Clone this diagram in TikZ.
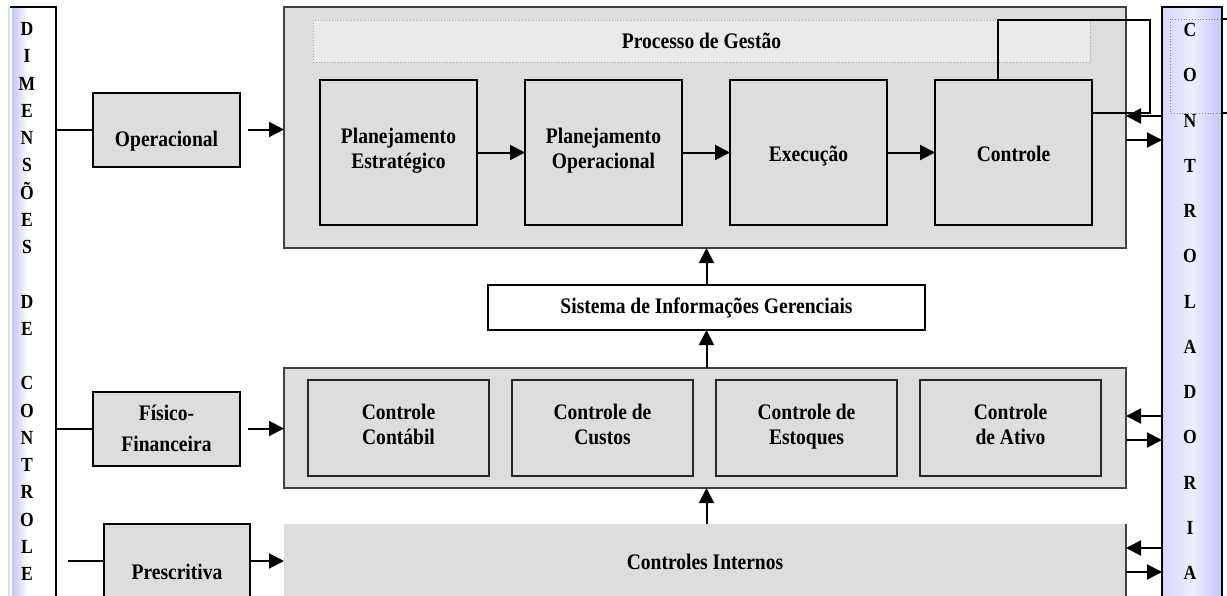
\documentclass[tikz,border=0pt]{standalone}
\usepackage{fontspec}
\setmainfont{Liberation Serif}[FakeStretch=0.88]
\usetikzlibrary{shapes.geometric, arrows, arrows.meta, positioning}
\definecolor{boxgray}{HTML}{DDDDDD}
\definecolor{headgray}{HTML}{EAEAEA}
\definecolor{barblue}{HTML}{C4C4F8}
\definecolor{barlight}{HTML}{EEEEFF}
\newcommand{\tallstrut}{\rule{0pt}{12.5pt}}
\tikzstyle{arrow} = [line width=1pt,-{Triangle[length=7.5pt,width=7.5pt]}]
\tikzstyle{link} = [line width=1pt]
\tikzstyle{block} = [rectangle, minimum width=73.5pt, minimum height=37pt, text centered, draw=black, line width=1pt, fill=boxgray, outer sep=0pt, font=\bfseries\fontsize{11.1}{12.5}\selectfont]
\tikzset{
	stage/.style={block, minimum width=78.5pt, minimum height=72.5pt, align=center, execute at begin node=\tallstrut, execute at end node=\strut},
	control/.style={block, draw=black!85, minimum width=90.5pt, minimum height=48pt, align=center, execute at begin node=\tallstrut, execute at end node=\strut},
	panel/.style={rectangle, draw=black!75, line width=0.6pt, fill=boxgray, minimum width=421pt, outer sep=0pt, font=\bfseries\fontsize{11.1}{12.5}\selectfont},
	sidebar/.style={rectangle, outer sep=0pt, minimum height=306.5pt},
	letters/.style={align=center, font=\bfseries\fontsize{10}{13.625}\selectfont}
}

\begin{document}
\begin{tikzpicture}[x=0.5pt, y=-0.5pt, node distance=24pt]
		\useasboundingbox (0,0) rectangle (1227,595);
		
		% Side bars
		\node (dimbar) [sidebar, minimum width=23pt] at (33,313.5) {};
		\fill [barblue!60] (8,7) rectangle (10,620);
		\fill [left color=barblue, right color=white] (12,7) rectangle (28,620);
		\draw [link] (dimbar.north west) -- (dimbar.north east) -- (dimbar.south east);
		\node (dimtext) [letters] at (27,301.5) {D\\I\\M\\E\\N\\S\\Õ\\E\\S\\[13.625pt]D\\E\\[13.625pt]C\\O\\N\\T\\R\\O\\L\\E};
		
		\node (contr) [sidebar, minimum width=30pt, left color=barblue!70, right color=barblue, middle color=barlight, draw=black, line width=1pt] at (1192,313.5) {};
		\node (contrtext) [letters, font=\bfseries\fontsize{10}{22.625}\selectfont] at (1190,301.5) {C\\O\\N\\T\\R\\O\\L\\A\\D\\O\\R\\I\\A};
		\draw [densely dotted, gray] (1170,19) rectangle (1240,113);
		\draw [link] (1222,19) -- (1230,19);
		\draw [link] (1222,113) -- (1230,113);
		
		% Dimensions
		\node (oper) [block, text height=19pt, text depth=2.5pt] at (166.5,129.5) {Operacional};
		\node (fisfin) [block, align=center] at (166.5,428.5) {Físico-\\[3pt]Financeira};
		\node (presc) [block, minimum width=73pt, minimum height=48pt] at (177,572) {Prescritiva};
		
		% Processo de gestao
		\node (gestao) [panel, minimum height=120.5pt] at (705,127.5) {};
		\node (header) [rectangle, draw=gray!70, densely dotted, fill=headgray, minimum width=388.5pt, minimum height=21pt, font=\bfseries\fontsize{11.1}{12.5}\selectfont] at (701.5,41) {Processo de Gestão};
		\node (plest) [stage] at (398.5,152.5) {Planejamento\\Estratégico};
		\node (plop) [stage, right=of plest] {Planejamento\\Operacional};
		\node (exec) [stage, right=of plop] {Execução};
		\node (ctrl) [stage, right=of exec] {Controle};
		
		\node (sig) [block, fill=white, minimum width=218.5pt, minimum height=22.5pt] at (706.5,307.5) {Sistema de Informações Gerenciais};
		
		% Controles fisico-financeiros
		\node (fisbox) [panel, minimum height=60pt] at (705,428) {};
		\node (ccont) [control] at (398.5,428) {Controle\\Contábil};
		\node (ccust) [control, right=11.5pt of ccont] {Controle de\\Custos};
		\node (cest) [control, right=11.5pt of ccust] {Controle de\\Estoques};
		\node (cativ) [control, right=11.5pt of cest] {Controle\\de Ativo};
		
		\node (interno) [panel, draw=none, minimum height=38pt] at (705,562) {Controles Internos};
		\draw [line width=0.6pt, black!75] (interno.north east) -- (interno.south east);
		
		% Arrows from the dimensions
		\draw [link] (dimbar.east |- oper.west) -- (oper.west);
		\draw [arrow] ([xshift=4pt]oper.east) -- (oper.east -| gestao.west);
		\draw [link] (dimbar.east |- fisfin.west) -- (fisfin.west);
		\draw [arrow] ([xshift=4pt]fisfin.east) -- (fisfin.east -| fisbox.west);
		\coordinate (prescin) at (68,561);
		\draw [link] (prescin) -- (prescin -| presc.west);
		\draw [arrow] (presc.east |- prescin) -- (prescin -| interno.west);
		
		% Process arrows
		\draw [arrow] (plest) -- (plop);
		\draw [arrow] (plop) -- (exec);
		\draw [arrow] (exec) -- (ctrl);
		\coordinate (loop) at (1150,20);
		\draw [link] ([xshift=-7.75pt]ctrl.north) |- (loop) |- ([yshift=19.75pt]ctrl.east);
		
		% Upward arrows
		\draw [arrow] (sig.north) -- (sig.north |- gestao.south);
		\draw [arrow] (sig.north |- fisbox.north) -- (sig.south);
		\draw [arrow] (sig.north |- interno.north) -- (sig.north |- fisbox.south);
		
		% Arrows to and from the controladoria
		\draw [arrow] ([yshift=5.75pt]gestao.east -| contr.west) -- ([yshift=5.75pt]gestao.east);
		\draw [arrow] ([yshift=-6.25pt]gestao.east) -- ([yshift=-6.25pt]gestao.east -| contr.west);
		\draw [arrow] ([yshift=6pt]fisbox.east -| contr.west) -- ([yshift=6pt]fisbox.east);
		\draw [arrow] ([yshift=-6pt]fisbox.east) -- ([yshift=-6pt]fisbox.east -| contr.west);
		\draw [arrow] ([yshift=7pt]interno.east -| contr.west) -- ([yshift=7pt]interno.east);
		\draw [arrow] ([yshift=-5pt]interno.east) -- ([yshift=-5pt]interno.east -| contr.west);
		
	\end{tikzpicture}
\end{document}
